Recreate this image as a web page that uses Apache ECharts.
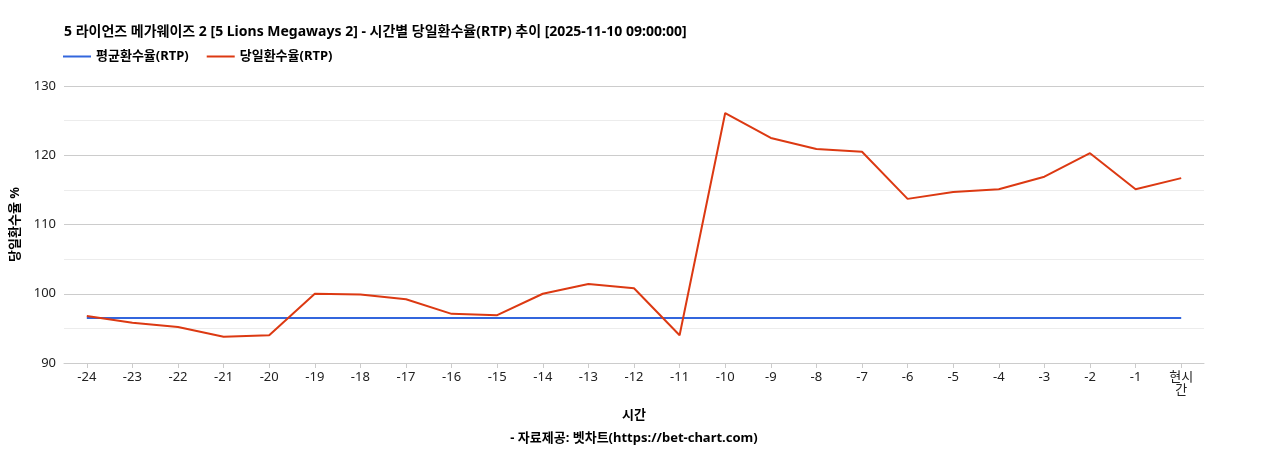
<!DOCTYPE html>
<html>
<head>
<meta charset="UTF-8">
<script src="https://cdn.jsdelivr.net/npm/echarts@6/dist/echarts.min.js"></script>
<style>html,body{margin:0;padding:0;background:#fff;}#chart{width:1268px;height:450px;}</style>
</head>
<body>
<div id="chart"></div>
<script>
var categories = ['-24','-23','-22','-21','-20','-19','-18','-17','-16','-15','-14','-13','-12','-11','-10','-9','-8','-7','-6','-5','-4','-3','-2','-1','현시간'];
var avgRtp = [96.5,96.5,96.5,96.5,96.5,96.5,96.5,96.5,96.5,96.5,96.5,96.5,96.5,96.5,96.5,96.5,96.5,96.5,96.5,96.5,96.5,96.5,96.5,96.5,96.5];
var dayRtp = [96.8,95.8,95.2,93.8,94.0,100.0,99.9,99.2,97.1,96.9,100.0,101.4,100.8,94.0,126.1,122.5,120.9,120.5,113.7,114.7,115.1,116.9,120.3,115.1,116.7];

var font = '"Noto Sans", "Noto Sans CJK KR", sans-serif';
var chart = echarts.init(document.getElementById('chart'));
chart.setOption({
    textStyle: {fontFamily: font},
    title: [
        {text: '5 라이언즈 메가웨이즈 2 [5 Lions Megaways 2] - 시간별 당일환수율(RTP) 추이 [2025-11-10 09:00:00]',
         left: 59, top: 20, textStyle: {fontSize: 14, fontWeight: 'bold', color: '#000', fontFamily: font}},
        {text: '- 자료제공: 벳차트(https://bet-chart.com)', left: 'center', top: 427,
         textStyle: {fontSize: 13, fontWeight: 'bold', color: '#000', fontFamily: font}}
    ],
    legend: {
        left: 58, top: 45, itemWidth: 28, itemHeight: 2, itemGap: 18,
        icon: 'rect',
        textStyle: {fontSize: 13, fontWeight: 'bold', color: '#000'},
        data: ['평균환수율(RTP)', '당일환수율(RTP)']
    },
    grid: {left: 64, right: 64, top: 86, bottom: 87},
    xAxis: {
        type: 'category', data: categories, boundaryGap: true,
        name: '시간', nameLocation: 'middle', nameGap: 46,
        nameTextStyle: {fontSize: 13, fontWeight: 'bold', color: '#000'},
        axisLine: {lineStyle: {color: '#ccc'}},
        axisTick: {show: true, alignWithLabel: true, lineStyle: {color: '#ccc'}},
        axisLabel: {interval: 0, fontSize: 13, color: '#222',
            formatter: function (v) { return v === '현시간' ? '현시\n간' : v; }}
    },
    yAxis: {
        type: 'value', min: 90, max: 130, interval: 10,
        name: '당일환수율 %', nameLocation: 'middle', nameGap: 42,
        nameTextStyle: {fontSize: 13, fontWeight: 'bold', color: '#000'},
        axisLabel: {fontSize: 13, color: '#222'},
        splitLine: {lineStyle: {color: '#ccc'}},
        minorTick: {show: false, splitNumber: 2},
        minorSplitLine: {show: true, lineStyle: {color: '#ececec'}}
    },
    series: [
        {name: '평균환수율(RTP)', type: 'line', data: avgRtp, symbol: 'none',
         lineStyle: {color: '#3366dd', width: 2}, itemStyle: {color: '#3366dd'}},
        {name: '당일환수율(RTP)', type: 'line', data: dayRtp, symbol: 'none',
         lineStyle: {color: '#dc3912', width: 2}, itemStyle: {color: '#dc3912'}}
    ]
});
</script>
</body>
</html>
